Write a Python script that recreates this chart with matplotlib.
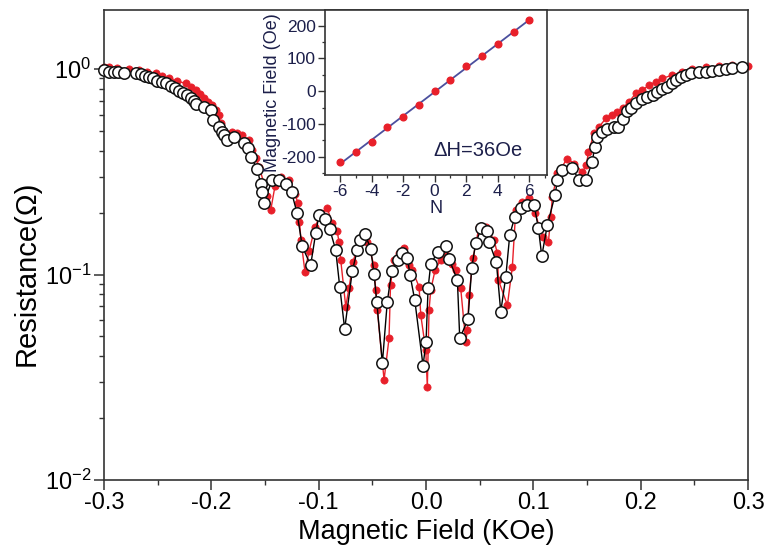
import numpy as np
import matplotlib
matplotlib.use("Agg")
import matplotlib.pyplot as plt
from matplotlib.ticker import MultipleLocator, LogLocator, NullFormatter, FixedLocator

plt.rcParams['font.family'] = ['Liberation Sans', 'DejaVu Sans']
plt.rcParams['mathtext.default'] = 'regular'
plt.rcParams['axes.unicode_minus'] = False

# ---- main data: open circles (black) ----
field_open = [-0.3001, -0.2955, -0.2908, -0.2868, -0.2815, -0.2705, -0.2659, -0.2619, -0.2582, -0.2544,
              -0.2504, -0.2463, -0.2420, -0.2379, -0.2339, -0.2302, -0.2262, -0.2225, -0.2193, -0.2162,
              -0.2146, -0.2069, -0.2006, -0.1985, -0.1929, -0.1904, -0.1883, -0.1852, -0.1789, -0.1696,
              -0.1659, -0.1631, -0.1572, -0.1541, -0.1528, -0.1514, -0.1432, -0.1370, -0.1308, -0.1253,
              -0.1202, -0.1153, -0.1075, -0.1028, -0.0997, -0.0941, -0.0897, -0.0842, -0.0804, -0.0758,
              -0.0687, -0.0640, -0.0615, -0.0568, -0.0515, -0.0485, -0.0459, -0.0407, -0.0361, -0.0320,
              -0.0258, -0.0221, -0.0174, -0.0149, -0.0105, -0.0028, 0.0000, 0.0019, 0.0044, 0.0112,
              0.0184, 0.0214, 0.0292, 0.0314, 0.0391, 0.0426, 0.0463, 0.0515, 0.0571, 0.0587,
              0.0655, 0.0696, 0.0743, 0.0780, 0.0827, 0.0883, 0.0944, 0.1007, 0.1047, 0.1078,
              0.1130, 0.1202, 0.1224, 0.1270, 0.1363, 0.1426, 0.1488, 0.1550, 0.1570, 0.1594,
              0.1643, 0.1690, 0.1752, 0.1792, 0.1836, 0.1869, 0.1908, 0.1954, 0.2010, 0.2062,
              0.2116, 0.2156, 0.2202, 0.2249, 0.2295, 0.2333, 0.2374, 0.2420, 0.2467, 0.2544,
              0.2607, 0.2668, 0.2731, 0.2793, 0.2855, 0.2948]
res_open = [0.985, 0.970, 0.964, 0.964, 0.953, 0.953, 0.942, 0.925, 0.911, 0.901,
            0.877, 0.867, 0.852, 0.829, 0.811, 0.784, 0.767, 0.747, 0.725, 0.701,
            0.675, 0.655, 0.632, 0.565, 0.520, 0.496, 0.477, 0.451, 0.469, 0.438,
            0.411, 0.374, 0.325, 0.277, 0.253, 0.222, 0.290, 0.288, 0.276, 0.251,
            0.200, 0.137, 0.111, 0.159, 0.195, 0.186, 0.166, 0.132, 0.0872, 0.0543,
            0.104, 0.132, 0.147, 0.157, 0.133, 0.101, 0.0737, 0.0370, 0.0737, 0.104,
            0.118, 0.127, 0.121, 0.0994, 0.0751, 0.0360, 0.0471, 0.0857, 0.113, 0.129,
            0.137, 0.119, 0.0940, 0.0489, 0.0605, 0.108, 0.143, 0.168, 0.162, 0.144,
            0.115, 0.0659, 0.0976, 0.156, 0.191, 0.210, 0.218, 0.218, 0.168, 0.123,
            0.174, 0.244, 0.288, 0.322, 0.329, 0.288, 0.288, 0.354, 0.419, 0.465,
            0.496, 0.509, 0.520, 0.520, 0.569, 0.627, 0.644, 0.686, 0.712, 0.728,
            0.747, 0.775, 0.797, 0.820, 0.852, 0.884, 0.911, 0.935, 0.953, 0.964,
            0.970, 0.978, 0.989, 1.000, 1.008, 1.019]

# ---- main data: red filled dots ----
field_red = [-0.3000, -0.2954, -0.2877, -0.2768, -0.2675, -0.2600, -0.2519, -0.2460, -0.2395, -0.2321,
             -0.2240, -0.2190, -0.2146, -0.2106, -0.2069, -0.2032, -0.1992, -0.1957, -0.1929, -0.1913,
             -0.1892, -0.1867, -0.1836, -0.1805, -0.1761, -0.1712, -0.1650, -0.1619, -0.1584, -0.1556,
             -0.1510, -0.1482, -0.1447, -0.1407, -0.1354, -0.1277, -0.1221, -0.1193, -0.1179, -0.1165,
             -0.1128, -0.1090, -0.1034, -0.0979, -0.0920, -0.0873, -0.0827, -0.0811, -0.0795, -0.0748,
             -0.0718, -0.0680, -0.0643, -0.0594, -0.0547, -0.0485, -0.0469, -0.0454, -0.0391, -0.0345,
             -0.0331, -0.0298, -0.0252, -0.0205, -0.0158, -0.0128, -0.0065, -0.0049, -0.0003, 0.0012,
             0.0028, 0.0044, 0.0084, 0.0137, 0.0186, 0.0245, 0.0277, 0.0323, 0.0370, 0.0385,
             0.0401, 0.0438, 0.0494, 0.0556, 0.0634, 0.0664, 0.0674, 0.0758, 0.0804, 0.0836,
             0.0897, 0.0960, 0.1016, 0.1058, 0.1090, 0.1140, 0.1162, 0.1177, 0.1224, 0.1317,
             0.1379, 0.1457, 0.1494, 0.1513, 0.1566, 0.1612, 0.1675, 0.1736, 0.1783, 0.1836,
             0.1892, 0.1954, 0.2016, 0.2078, 0.2141, 0.2202, 0.2295, 0.2389, 0.2482, 0.2607,
             0.2731, 0.2855, 0.3000]
res_red = [1.026, 1.020, 1.008, 1.000, 0.989, 0.970, 0.953, 0.930, 0.901, 0.875,
           0.852, 0.820, 0.790, 0.755, 0.720, 0.695, 0.668, 0.630, 0.597, 0.544,
           0.500, 0.469, 0.480, 0.496, 0.490, 0.477, 0.451, 0.404, 0.370, 0.335,
           0.278, 0.240, 0.206, 0.270, 0.299, 0.288, 0.248, 0.222, 0.181, 0.147,
           0.103, 0.130, 0.170, 0.200, 0.210, 0.178, 0.162, 0.144, 0.118, 0.0697,
           0.0857, 0.115, 0.135, 0.147, 0.144, 0.111, 0.0841, 0.0672, 0.0307, 0.0489,
           0.0889, 0.118, 0.128, 0.134, 0.111, 0.105, 0.0872, 0.0635, 0.0429, 0.0284,
           0.0672, 0.0841, 0.105, 0.118, 0.125, 0.113, 0.105, 0.0857, 0.0471, 0.0537,
           0.0795, 0.120, 0.171, 0.171, 0.147, 0.127, 0.094, 0.071, 0.109, 0.206,
           0.226, 0.235, 0.199, 0.170, 0.153, 0.144, 0.191, 0.239, 0.311, 0.367,
           0.347, 0.316, 0.341, 0.396, 0.486, 0.524, 0.575, 0.597, 0.620, 0.650,
           0.694, 0.762, 0.790, 0.836, 0.867, 0.901, 0.935, 0.970, 0.997, 1.019,
           1.034, 1.042, 1.034]

# ---- inset data ----
inset_N = [-6, -5, -4, -3, -2, -1, 0, 1, 2, 3, 4, 5, 6]
inset_H = [-217, -187, -156, -109, -78, -41, 0, 35, 76, 107, 143, 182, 217]

x_ticks = [-0.3, -0.2, -0.1, 0.0, 0.1, 0.2, 0.3]
x_ticklabels = ['-0.3', '-0.2', '-0.1', '0.0', '0.1', '0.2', '0.3']

red = '#e8202a'
spine_col = '#333333'
ink = 'black'
inset_ink = '#1c1f4a'

fig = plt.figure(figsize=(7.7, 5.54), dpi=100)
ax = fig.add_axes([0.1351, 0.1336, 0.8364, 0.8484])

ax.plot(field_red, res_red, '-', color=red, lw=1.0, marker='o', ms=5.2,
        mfc=red, mec=red, mew=0.5, zorder=2, clip_on=False)
ax.plot(field_open, res_open, '-', color='black', lw=1.0, marker='o', ms=8.2,
        mfc='white', mec='#111111', mew=1.1, zorder=3, clip_on=False)

ax.set_yscale('log')
ax.set_xlim(-0.3, 0.3)
ax.set_ylim(0.01, 1.94)
ax.xaxis.set_major_locator(FixedLocator(x_ticks))
ax.set_xticklabels(x_ticklabels)
ax.xaxis.set_minor_locator(MultipleLocator(0.05))
ax.yaxis.set_major_locator(LogLocator(base=10, numticks=10))
ax.yaxis.set_minor_locator(LogLocator(base=10, subs=np.arange(2, 10), numticks=20))
ax.yaxis.set_minor_formatter(NullFormatter())

for s in ax.spines.values():
    s.set_color(spine_col)
    s.set_linewidth(1.2)
ax.tick_params(which='major', direction='out', length=7, width=1.1, color=spine_col,
               labelsize=17, pad=2, labelcolor=ink, top=False, right=False)
ax.tick_params(which='minor', direction='out', length=3.5, width=1.0, color=spine_col,
               top=False, right=False)
ax.set_xlabel('Magnetic Field (KOe)', fontsize=19.5, color=ink, labelpad=3)
ax.set_ylabel('Resistance(Ω)', fontsize=21, color=ink)
ax.yaxis.set_label_coords(-0.099, 0.44)

# ---- inset ----
axi = fig.add_axes([0.4221, 0.6841, 0.2883, 0.2979])
axi.set_facecolor('white')
coef = np.polyfit(inset_N, inset_H, 1)
axi.plot(inset_N, np.polyval(coef, inset_N), '-', color='#4b4f9e', lw=1.3, zorder=2)
axi.plot(inset_N, inset_H, 'o', color=red, ms=4.8, mec=red, zorder=3)
axi.set_xlim(-6.95, 7.12)
axi.set_ylim(-256, 248)
axi.xaxis.set_major_locator(MultipleLocator(2))
axi.xaxis.set_minor_locator(MultipleLocator(1))
axi.yaxis.set_major_locator(MultipleLocator(100))
axi.yaxis.set_minor_locator(MultipleLocator(50))
for s in axi.spines.values():
    s.set_color(spine_col)
    s.set_linewidth(1.2)
axi.tick_params(which='major', direction='out', length=5, width=1.0, color=spine_col,
                labelsize=12.5, pad=1.5, labelcolor=inset_ink, top=False, right=False)
axi.tick_params(which='minor', direction='out', length=2.5, width=0.9, color=spine_col,
                top=False, right=False)
axi.set_xlabel('N', fontsize=13, color=inset_ink, labelpad=1)
axi.set_ylabel('Magnetic Field (Oe)', fontsize=13, color=inset_ink, labelpad=0)
axi.text(0.486, 0.15, 'ΔH=36Oe', transform=axi.transAxes, fontsize=14.5,
         color=inset_ink, ha='left', va='center')

fig.savefig('out.png', dpi=100)
